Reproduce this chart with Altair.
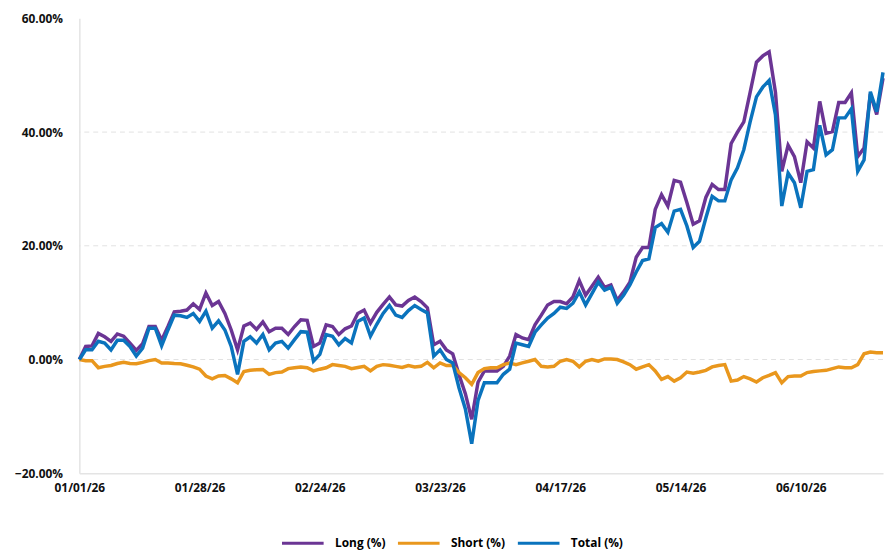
import altair as alt
import pandas as pd

# ---- data (values in %) ----
long_pct = [
    0.0, 2.3, 2.4, 4.6, 4.0, 3.2, 4.5, 4.1, 2.9, 1.6,
    2.8, 5.8, 5.8, 3.4, 5.8, 8.4, 8.5, 8.7, 9.8, 8.8,
    11.7, 9.5, 10.2, 8.1, 5.2, 1.7, 5.9, 6.4, 5.3, 6.6,
    4.9, 5.5, 5.5, 4.4, 5.8, 7.0, 6.9, 2.3, 2.9, 6.1,
    5.8, 4.4, 5.4, 5.9, 8.1, 8.7, 6.4, 8.3, 9.7, 11.0,
    9.6, 9.4, 10.4, 11.0, 10.2, 9.1, 2.6, 3.2, 1.7, 1.0,
    -2.7, -6.0, -10.5, -4.0, -2.0, -2.0, -2.0, -1.2, 0.6, 4.4,
    3.8, 3.5, 6.1, 7.8, 9.6, 10.2, 10.2, 9.8, 11.0, 13.9,
    11.3, 12.9, 14.5, 12.7, 13.1, 10.4, 11.9, 13.6, 18.0, 19.7,
    19.7, 26.4, 29.0, 27.0, 31.5, 31.2, 27.6, 23.8, 24.4, 28.5,
    30.8, 29.9, 29.9, 38.0, 40.0, 41.8, 47.0, 52.3, 53.4, 54.1,
    47.0, 33.1, 37.7, 35.7, 31.1, 38.3, 37.2, 45.4, 39.8, 40.1,
    45.2, 45.2, 46.9, 35.7, 37.2, 46.7, 43.1, 49.5,
]
short_pct = [
    0.0, -0.2, -0.2, -1.45, -1.2, -1.05, -0.7, -0.5, -0.7, -0.75,
    -0.5, -0.2, 0.0, -0.6, -0.6, -0.7, -0.75, -1.0, -1.3, -1.7,
    -2.9, -3.4, -2.9, -2.8, -3.4, -4.1, -2.1, -1.9, -1.8, -1.75,
    -2.6, -2.3, -2.2, -1.6, -1.45, -1.3, -1.45, -2.0, -1.7, -1.45,
    -0.9, -1.05, -1.2, -1.6, -1.4, -1.2, -2.0, -1.2, -0.9, -1.0,
    -1.2, -1.4, -1.05, -1.3, -1.2, -0.5, -1.45, -0.6, -1.05, -1.05,
    -2.3, -3.2, -4.35, -2.3, -1.6, -1.45, -1.45, -0.9, -0.6, -0.9,
    -0.6, -0.3, 0.0, -1.2, -1.3, -1.2, -0.3, 0.0, -0.3, -1.3,
    -0.3, 0.0, -0.3, 0.1, 0.1, 0.0, -0.4, -0.9, -1.7, -1.3,
    -0.9, -2.0, -3.5, -3.0, -3.8, -3.2, -2.2, -2.4, -2.2, -1.9,
    -1.3, -1.05, -0.9, -3.8, -3.6, -3.0, -3.4, -3.95, -3.2, -2.8,
    -2.3, -4.1, -3.0, -2.9, -2.9, -2.3, -2.1, -2.0, -1.9, -1.6,
    -1.3, -1.45, -1.45, -0.9, 1.0, 1.3, 1.2, 1.2,
]
total_pct = [
    0.0, 1.7, 1.7, 3.2, 2.9, 1.7, 3.4, 3.4, 2.3, 0.6,
    2.0, 5.5, 5.5, 2.4, 5.2, 7.8, 7.7, 7.4, 8.1, 6.7,
    8.5, 5.5, 6.8, 5.2, 2.3, -2.6, 3.2, 4.0, 2.9, 4.4,
    1.7, 2.9, 3.2, 2.0, 3.5, 4.9, 4.8, -0.3, 0.9, 4.4,
    4.1, 2.6, 3.7, 2.9, 6.7, 7.3, 4.1, 6.2, 8.1, 9.5,
    7.8, 7.4, 8.6, 9.5, 8.8, 8.2, 0.6, 1.7, 0.0, -0.6,
    -5.0, -8.7, -14.8, -7.2, -4.1, -4.1, -4.1, -2.6, -1.7, 2.9,
    2.6, 2.3, 4.8, 6.1, 7.3, 8.1, 9.2, 9.0, 9.9, 11.9,
    9.6, 11.6, 13.6, 12.2, 12.7, 9.9, 11.3, 13.1, 15.4, 17.4,
    17.7, 23.2, 23.9, 22.4, 26.1, 26.4, 23.5, 19.7, 20.8, 24.9,
    28.7, 27.9, 27.9, 31.6, 33.7, 36.9, 41.8, 46.2, 47.9, 49.1,
    43.0, 27.0, 32.8, 31.1, 26.7, 33.1, 33.4, 41.2, 36.0, 36.9,
    42.5, 42.5, 44.1, 33.1, 35.1, 47.1, 43.6, 50.5,
]
series_names = ["Long (%)", "Short (%)", "Total (%)"]
series_colors = ["#6b3594", "#e9971d", "#0a73bd"]
tick_labels = ["01/01/26", "01/28/26", "02/24/26", "03/23/26",
               "04/17/26", "05/14/26", "06/10/26"]
y_ticks = [-20, 0, 20, 40, 60]
grid_values = [0, 20, 40]

dates = pd.bdate_range("2026-01-01", periods=len(long_pct)).strftime("%m/%d/%y").tolist()

rows = []
for name, vals in zip(series_names, [long_pct, short_pct, total_pct]):
    for d, v in zip(dates, vals):
        rows.append({"date": d, "series": name, "value": v})
df = pd.DataFrame(rows)

FONT = "Open Sans"
LABEL = dict(labelFont=FONT, labelFontSize=12, labelFontWeight="bold", labelColor="#111")

y_scale = alt.Scale(domain=[-20, 60], nice=False, zero=False)
y_axis = alt.Axis(values=y_ticks, title=None, ticks=False, grid=False,
                  labelExpr="format(datum.value, '.2f') + '%'",
                  domainColor="#e4e4e4", domainWidth=1.5, labelPadding=17, **LABEL)

grid = alt.Chart(pd.DataFrame({"g": grid_values})).mark_rule(
    color="#e2e2e2", strokeDash=[5, 4], strokeWidth=1
).encode(y=alt.Y("g:Q", axis=y_axis, scale=y_scale, title=None))

lines = alt.Chart(df).mark_line(strokeWidth=3.5).encode(
    x=alt.X("date:O", sort=None,
            scale=alt.Scale(type="point", padding=0),
            axis=alt.Axis(values=tick_labels, labelAngle=0, title=None, ticks=False,
                          grid=False, domainColor="#e4e4e4", domainWidth=1.5,
                          labelPadding=9, labelAlign="center", **LABEL)),
    y=alt.Y("value:Q", scale=y_scale, axis=y_axis, title=None),
    color=alt.Color("series:N",
                    scale=alt.Scale(domain=series_names, range=series_colors),
                    legend=alt.Legend(title=None, orient="none", direction="horizontal",
                                      legendX=203, legendY=507,
                                      symbolType="stroke", symbolSize=1764,
                                      symbolStrokeWidth=3, labelOffset=10,
                                      columnPadding=6, padding=0,
                                      labelFont=FONT, labelFontSize=12,
                                      labelFontWeight="bold", labelColor="#000")),
)

chart = alt.layer(grid, lines).properties(
    width=811, height=459,
    padding={"left": 72, "top": 8, "right": 3, "bottom": 76},
    autosize=alt.AutoSizeParams(type="none"),
    background="white",
).configure_view(stroke=None)

chart.save("out.html", embed_options={"renderer": "svg", "actions": False})
